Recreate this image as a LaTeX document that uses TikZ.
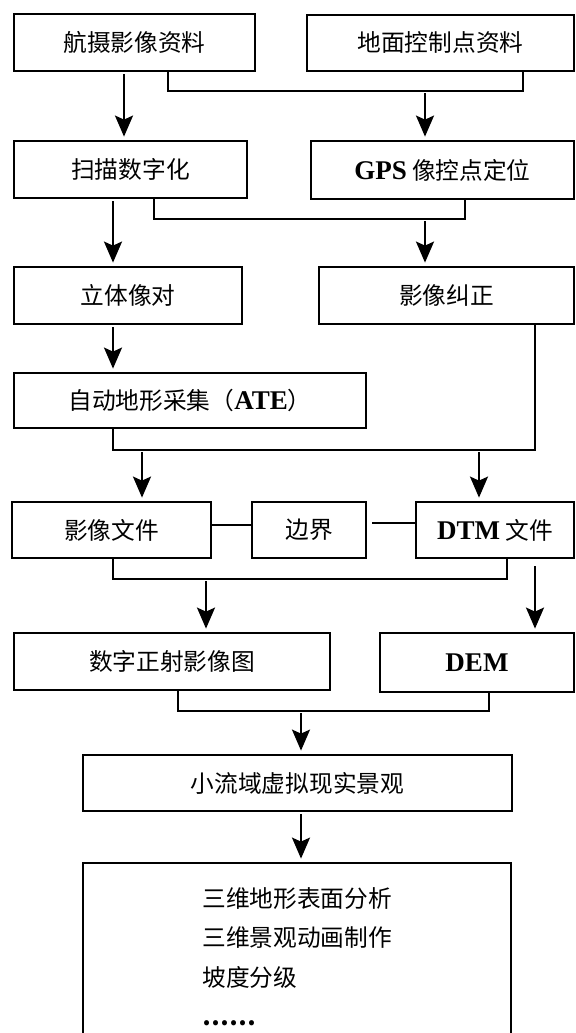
\documentclass[tikz,border=0pt]{standalone}
\usepackage{fontspec}
\setmainfont{Noto Sans CJK SC}
\newfontfamily\latin[Scale=1.14]{Liberation Serif}
\newcommand{\lt}[1]{{\latin\bfseries #1}}
\usetikzlibrary{arrows.meta}

\begin{document}
\begin{tikzpicture}[x=0.5pt,y=-0.5pt,
        box/.style={draw,line width=1.4pt,minimum height=28.5pt,inner sep=0pt,
            font=\fontsize{11.85pt}{14pt}\selectfont},
        link/.style={line width=1.1pt},
        arrow/.style={line width=1.1pt,shorten >=1.5pt,shorten <=1pt,
            -{Stealth[length=10.5pt,width=9pt,inset=2pt]}}
    ]
        \useasboundingbox (0,0) rectangle (576,1033);
        \clip (0,0) rectangle (576,1033);

        % Define the boxes
        \node[box,minimum width=120.5pt] (aerial) at (134.5,42.5) {航摄影像资料};
        \node[box,minimum width=133.5pt,minimum height=28pt] (ground) at (440.5,43) {地面控制点资料};
        \node[box,minimum width=116.5pt] (scan) at (130.5,169.5) {扫描数字化};
        \node[box,minimum width=131.5pt,minimum height=29pt] (gps) at (442.5,170) {\lt{GPS} 像控点定位};
        \node[box,minimum width=114pt] (stereo) at (128,295.5) {立体像对};
        \node[box,minimum width=127.5pt] (rectify) at (446.5,295.5) {影像纠正};
        \node[box,minimum width=176pt,minimum height=27.5pt] (ate) at (190,400.5) {自动地形采集（\lt{ATE}）};
        \node[box,minimum width=99.5pt,minimum height=28pt] (imgfile) at (111.5,530) {影像文件};
        \node[box,minimum width=57pt,minimum height=28pt] (border) at (309,530) {边界};
        \node[box,minimum width=79pt,minimum height=28pt] (dtm) at (495,530) {\lt{DTM} 文件};
        \node[box,minimum width=158pt] (dom) at (172,661.5) {数字正射影像图};
        \node[box,minimum width=97pt,minimum height=29.5pt] (dem) at (477,662.5) {\lt{DEM}};
        \node[box,minimum width=214.5pt,minimum height=28pt] (vr) at (297.5,783) {小流域虚拟现实景观};
        \node[box,minimum width=214pt,minimum height=98.5pt] (apps) at (297,961.5) {};
        \node[anchor=west,align=left,inner sep=0pt,
            font=\fontsize{11.85pt}{19.75pt}\selectfont] (applist) at (202,956.5)
            {三维地形表面分析\\三维景观动画制作\\坡度分级\\{\bfseries ……}};

        % Junctions of the merging lines
        \coordinate (j1) at (425,91);
        \coordinate (j2) at (425,219);
        \coordinate (j3) at (142,450);
        \coordinate (j4) at (479,450);
        \coordinate (j5) at (206,579);
        \coordinate (j6) at (301,711);

        % Start points of the straight arrows
        \coordinate (a1) at ([xshift=-5.25pt]aerial.south);
        \coordinate (a2) at ([xshift=-8.75pt]scan.south);
        \coordinate (a3) at ([xshift=-7.5pt]stereo.south);
        \coordinate (a4) at ([xshift=20pt,yshift=-2.5pt]dtm.south);
        \coordinate (a5) at ([xshift=1.75pt]vr.south);

        % Merging lines
        \draw[link] ([xshift=16.75pt]aerial.south) |- (j1) -| ([xshift=41.25pt]ground.south);
        \draw[link] ([xshift=11.75pt]scan.south) |- (j2) -| ([xshift=11.25pt]gps.south);
        \draw[link] ([xshift=-38.5pt]ate.south) |- (j3) -| ([xshift=44.25pt]rectify.south);
        \draw[link] ([xshift=0.75pt]imgfile.south) |- (j5) -| ([xshift=6pt]dtm.south);
        \draw[link] ([xshift=3pt]dom.south) |- (j6) -| ([xshift=6pt]dem.south);

        % Side links of the border box
        \draw[link] ([yshift=2.5pt]imgfile.east) -- ([yshift=2.5pt]border.west);
        \draw[link] ([xshift=2.5pt,yshift=3.5pt]border.east) -- ([yshift=3.5pt]dtm.west);

        % Arrows
        \draw[arrow] (a1) -- (a1 |- scan.north);
        \draw[arrow] (j1) -- (j1 |- gps.north);
        \draw[arrow] (a2) -- (a2 |- stereo.north);
        \draw[arrow] (j2) -- (j2 |- rectify.north);
        \draw[arrow] (a3) -- (a3 |- ate.north);
        \draw[arrow] (j3) -- (j3 |- imgfile.north);
        \draw[arrow] (j4) -- (j4 |- dtm.north);
        \draw[arrow] (j5) -- (j5 |- dom.north);
        \draw[arrow] (a4) -- (a4 |- dem.north);
        \draw[arrow] (j6) -- (j6 |- vr.north);
        \draw[arrow] (a5) -- (a5 |- apps.north);
    \end{tikzpicture}
\end{document}
